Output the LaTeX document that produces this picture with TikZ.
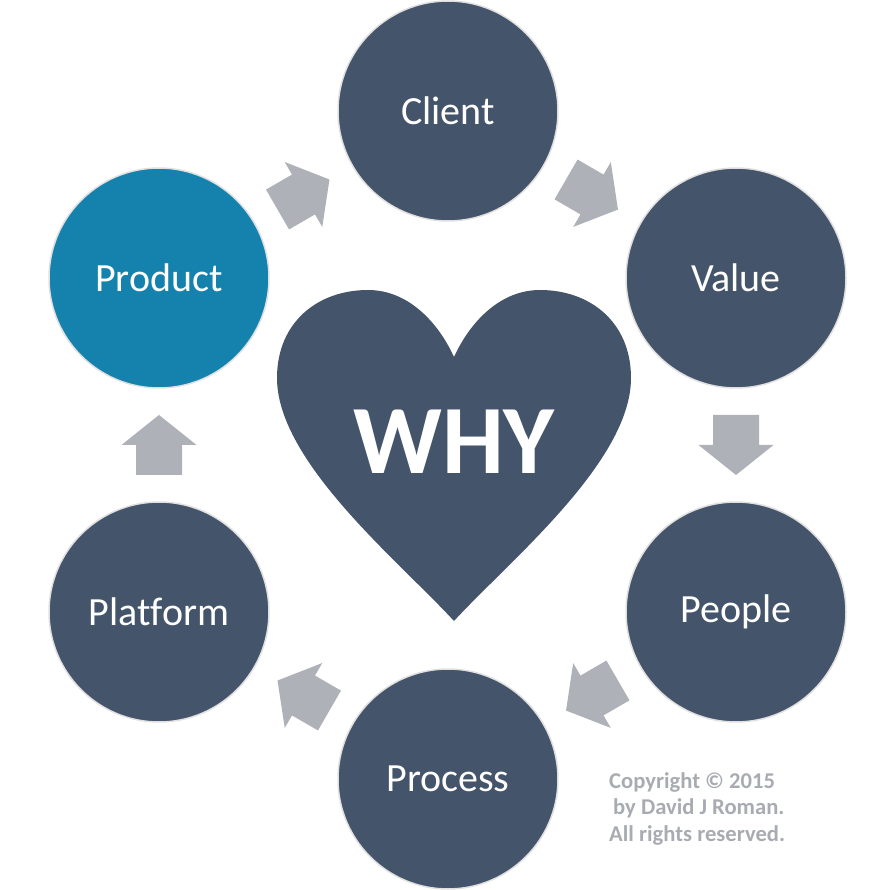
\documentclass[tikz,border=0pt]{standalone}
\usepackage{fontspec}
\setmainfont{Carlito}[Ligatures=NoCommon]
\usepackage{tikz}
\usetikzlibrary{calc,positioning}
\definecolor{slate}{HTML}{44546A}
\definecolor{prodblue}{HTML}{1582AD}
\definecolor{arrowgray}{HTML}{AEB1B8}
\definecolor{notegray}{HTML}{A8ABB1}
\tikzstyle{stage} = [circle, draw=black!12, line width=1.5pt, fill=slate,
    text=white, minimum size=220pt, inner sep=0pt,
    font=\fontsize{40}{48}\selectfont]
\tikzset{flow/.pic={
    \fill[arrowgray] (-30,23) -- (0,23) -- (0,37.5) -- (30,0)
        -- (0,-37.5) -- (0,-23) -- (-30,-23) -- cycle;}}

\begin{document}
\begin{tikzpicture}[x=1pt,y=1pt]
        \useasboundingbox (0,0) rectangle (895,-890);
        % Place nodes
        \node [stage] (Client) at (448,-111) {Client};
        \node [stage] (Value) at (736,-278) {Value};
        \node [stage] (People) at (736,-612) {People};
        \node [stage] (Process) at (448,-779) {Process};
        \node [stage] (Platform) at (159,-612) {Platform};
        \node [stage, fill=prodblue] (Product) at (159,-278) {Product};
        % Heart
        \fill [slate] (454,-621) .. controls (400,-562) and (277,-462) .. (277,-378)
            .. controls (277,-322) and (318,-290) .. (368,-290)
            .. controls (408,-290) and (438,-322) .. (454,-357)
            .. controls (470,-322) and (500,-290) .. (540,-290)
            .. controls (590,-290) and (631,-322) .. (631,-378)
            .. controls (631,-462) and (508,-562) .. (454,-621) -- cycle;
        \node [text=white, font=\fontsize{98}{110}\selectfont\bfseries] (Why) at (454,-442) {WHY};
        \node [text=notegray, align=left, anchor=north west, inner sep=0pt,
            font=\fontsize{22.6}{26.5}\selectfont\bfseries] (Note) at (609,-772)
            {Copyright \textcopyright{} 2015\\\hspace{4pt}by David J Roman.\\All rights reserved.};
        % Draw edges
        \path (Product) -- (Client) pic [midway, sloped, allow upside down] {flow};
        \path (Client) -- (Value) pic [midway, sloped, allow upside down] {flow};
        \path (Value) -- (People) pic [midway, sloped, allow upside down] {flow};
        \path (People) -- (Process) pic [midway, sloped, allow upside down] {flow};
        \path (Process) -- (Platform) pic [midway, sloped, allow upside down] {flow};
        \path (Platform) -- (Product) pic [midway, sloped, allow upside down] {flow};
    \end{tikzpicture}
\end{document}
